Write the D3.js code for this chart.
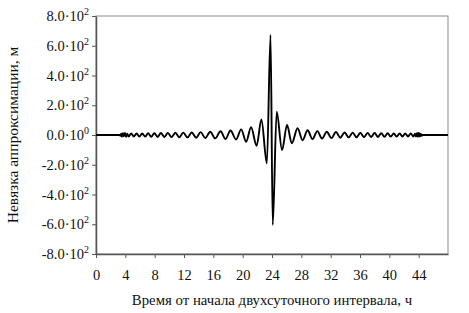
<!DOCTYPE html>
<html>
<head>
<meta charset="utf-8">
<script src="https://cdn.jsdelivr.net/npm/d3@7"></script>
<style>
  body { margin: 0; background: #fff; }
  text { font-family: "Liberation Serif", "Times New Roman", serif; fill: #111; }
</style>
</head>
<body>
<svg id="chart" width="469" height="313"></svg>
<script>
// extrema of the residual curve (hours, metres)
var times = [
    0, 3.22, 3.33, 3.43, 3.55, 3.68, 3.8, 3.95, 4.1, 4.25,
    4.45, 4.8, 5.16, 5.53, 5.91, 6.3, 6.7, 7.11, 7.53, 7.96,
    8.4, 8.85, 9.32, 9.8, 10.3, 10.82, 11.35, 11.9, 12.47, 13.05,
    13.65, 14.27, 14.9, 15.58, 16.26, 16.98, 17.66, 18.34, 19.1, 19.8,
    20.47, 21.15, 21.9, 22.55, 23.3, 23.8, 24.1, 24.64, 25.37, 26.05,
    26.7, 27.49, 28.17, 28.85, 29.52, 30.18, 30.83, 31.47, 32.1, 32.72,
    33.32, 33.9, 34.46, 35.0, 35.53, 36.05, 36.55, 37.04, 37.52, 37.99,
    38.45, 38.9, 39.34, 39.77, 40.19, 40.6, 41.0, 41.4, 41.79, 42.17,
    42.55, 42.92, 43.28, 43.5, 43.65, 43.78, 43.9, 44.02, 44.15, 44.27,
    44.4, 44.52, 48
]
var residuals = [
    0, 0, -5, 8, -11, 12, -8, 13, -12, 9,
    -10, 11, -10, 11, -11, 11, -11, 12, -12, 12,
    -13, 13, -13, 14, -14, 15, -15, 16, -16, 17,
    -18, 19, -20, 22, -23, 25, -27, 30, -30, 38,
    -45, 52, -72, 105, -190, 672, -605, 157, -101, 67,
    -56, 45, -35, 32, -28, 26, -24, 22, -21, 20,
    -18, 17, -16, 16, -15, 15, -14, 14, -13, 13,
    -13, 12, -12, 12, -11, 11, -11, 11, -10, 10,
    -10, 10, -10, 8, -10, 14, -12, 16, -10, 9,
    -6, 0, 0
]
var xTicks = [0, 4, 8, 12, 16, 20, 24, 28, 32, 36, 40, 44]
var yTicks = [-800, -600, -400, -200, 0, 200, 400, 600, 800]
var yTickMant = ["-8.0", "-6.0", "-4.0", "-2.0", "0.0", "2.0", "4.0", "6.0", "8.0"]
var yTickExp = ["2", "2", "2", "2", "0", "2", "2", "2", "2"]

var xLabel = "Время от начала двухсуточного интервала, ч"
var yLabel = "Невязка аппроксимации, м"

var margin = {top: 16, right: 21, bottom: 59, left: 96}
var width = 469 - margin.left - margin.right
var height = 313 - margin.top - margin.bottom

var svg = d3.select("#chart")
var g = svg.append("g")
    .attr("transform", "translate(" + margin.left + "," + margin.top + ")")

var x = d3.scaleLinear().domain([0, 48]).range([0, width])
var y = d3.scaleLinear().domain([-800, 800]).range([height, 0])

// frame
g.append("rect")
    .attr("x", 0).attr("y", 0)
    .attr("width", width).attr("height", height)
    .attr("fill", "none")
    .attr("stroke", "#888")
    .attr("stroke-width", 1)

// x axis
var xAxis = g.append("g")
    .attr("transform", "translate(0," + height + ")")
    .call(d3.axisBottom(x).tickValues(xTicks).tickSize(4).tickPadding(12).tickSizeOuter(0))
xAxis.select(".domain").attr("stroke", "#555").attr("stroke-width", 1.5)
xAxis.selectAll(".tick line").attr("stroke", "#555")
xAxis.selectAll(".tick text")
    .attr("font-size", "14.5px")
    .attr("fill", "#111")

// y axis
var yAxis = g.append("g")
    .call(d3.axisLeft(y).tickValues(yTicks).tickSize(4).tickPadding(5).tickSizeOuter(0).tickFormat(""))
yAxis.select(".domain").attr("stroke", "#555").attr("stroke-width", 1.5)
yAxis.selectAll(".tick line").attr("stroke", "#555")

yTicks.forEach(function (v, i) {
    var t = g.append("text")
        .attr("x", -7)
        .attr("y", y(v) + 5)
        .attr("text-anchor", "end")
        .attr("font-size", "14.5px")
    t.append("tspan").text(yTickMant[i] + "·10")
    t.append("tspan")
        .attr("dy", -6)
        .attr("font-size", "10px")
        .text(yTickExp[i])
})

// residual curve
var pts = times.map(function (t, i) { return [t, residuals[i]] })
var line = d3.line()
    .x(function (d) { return x(d[0]) })
    .y(function (d) { return y(d[1]) })
    .curve(d3.curveMonotoneX)

g.append("path")
    .datum(pts)
    .attr("fill", "none")
    .attr("stroke", "#000")
    .attr("stroke-width", 1.9)
    .attr("stroke-linejoin", "round")
    .attr("d", line)

// axis titles
svg.append("text")
    .attr("x", margin.left + width / 2)
    .attr("y", 305)
    .attr("text-anchor", "middle")
    .attr("font-size", "14.8px")
    .text(xLabel)

svg.append("text")
    .attr("transform", "translate(18," + (margin.top + height / 2) + ") rotate(-90)")
    .attr("text-anchor", "middle")
    .attr("font-size", "15.5px")
    .text(yLabel)
</script>
</body>
</html>
